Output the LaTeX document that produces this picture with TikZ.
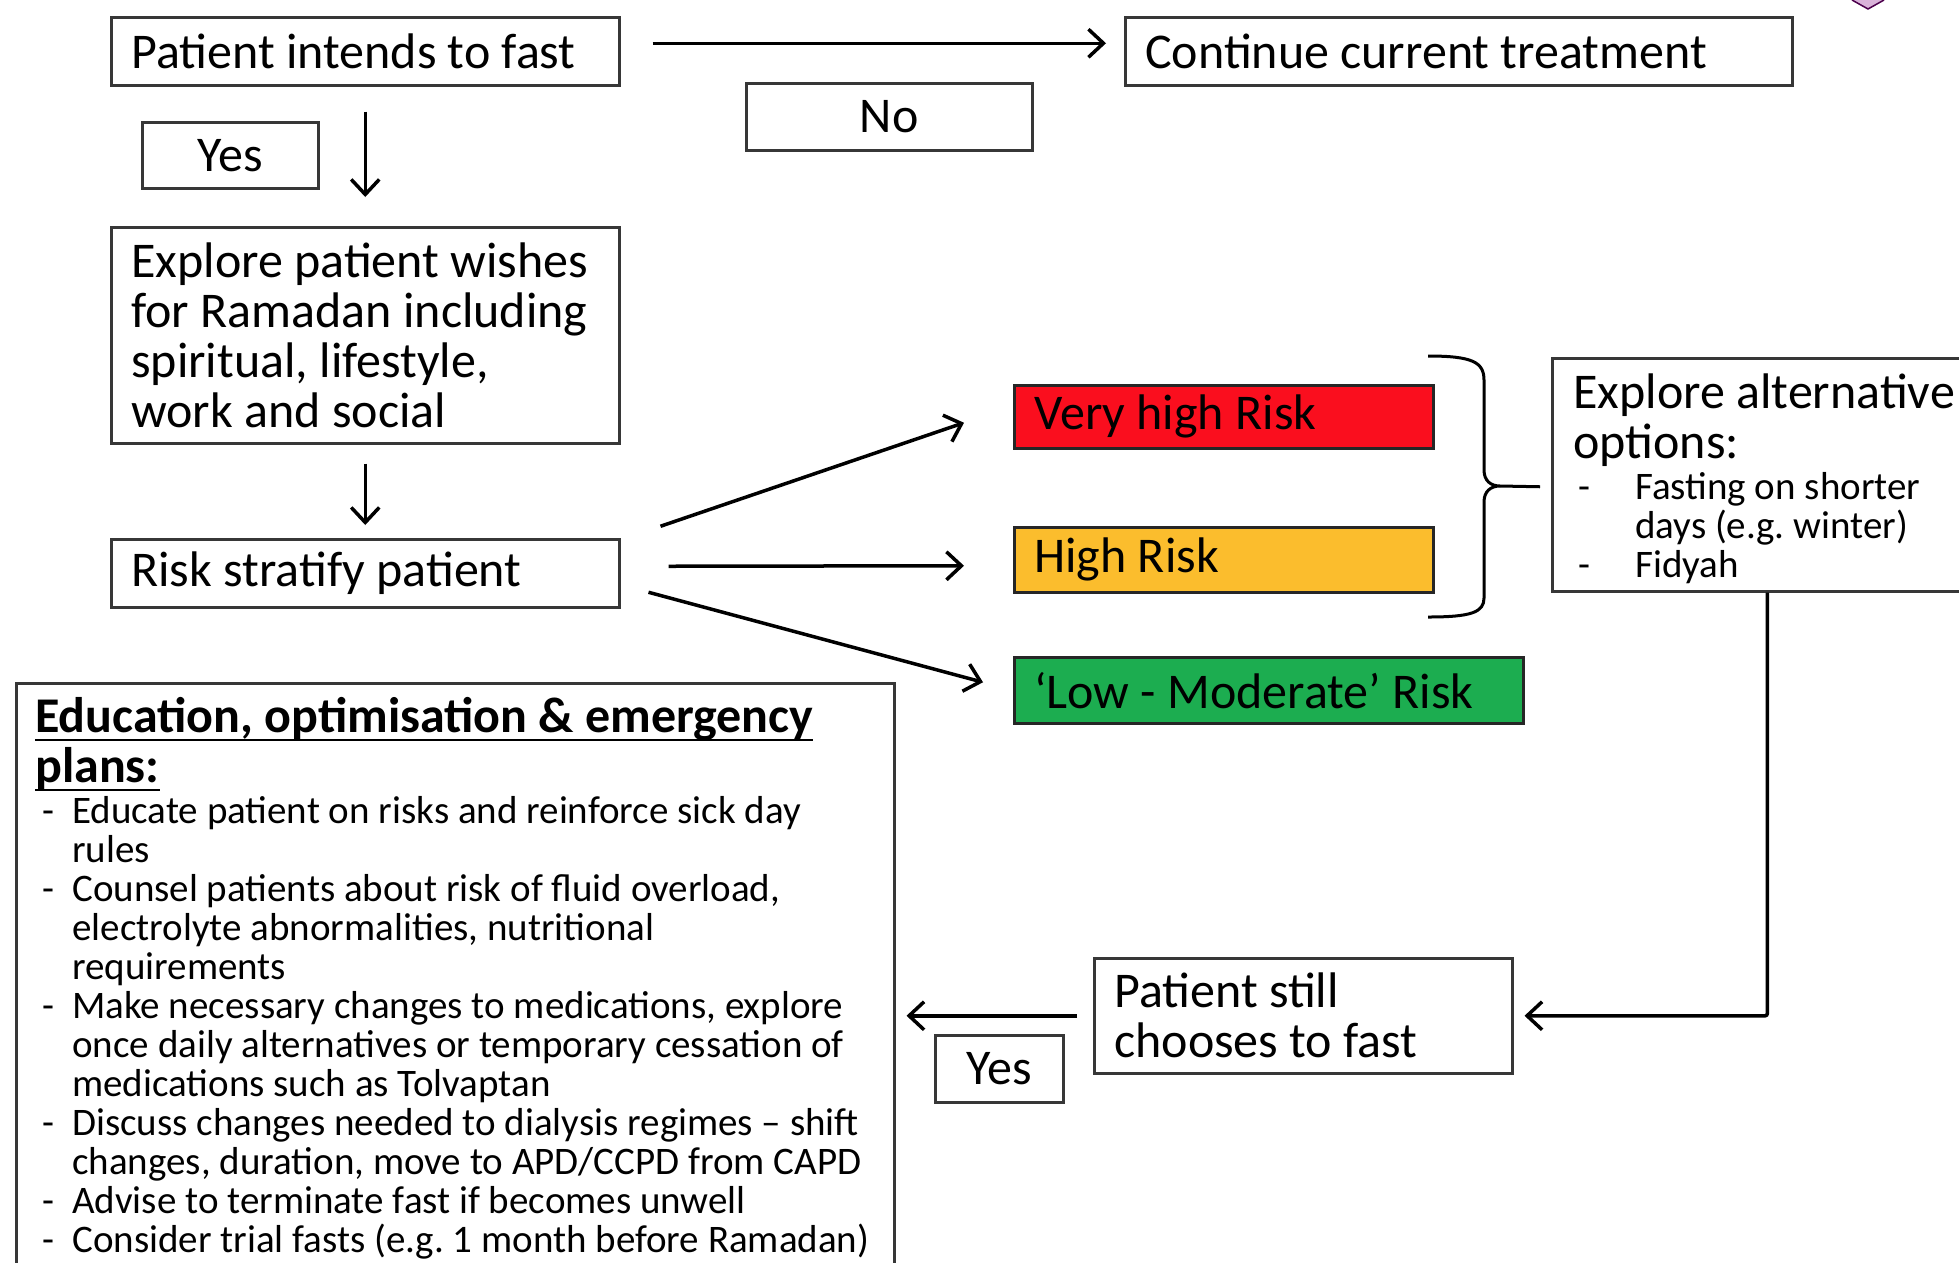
\documentclass[tikz,border=0pt]{standalone}
\usepackage{fontspec}
\setmainfont{Carlito}
\usetikzlibrary{arrows.meta,calc}
\definecolor{riskred}{RGB}{250,14,30}
\definecolor{riskamber}{RGB}{251,189,45}
\definecolor{riskgreen}{RGB}{28,173,80}
\definecolor{boxline}{RGB}{55,55,55}
\newcommand{\bigtxt}{\fontsize{50}{50}\selectfont}
\newcommand{\smalltxt}{\fontsize{39}{39}\selectfont}
\newcommand{\dashline}[3]{\par\noindent\hangindent=#1\hangafter=1\makebox[#1][l]{\hspace{#2}-}#3}
\newcommand{\undl}[1]{\leavevmode\setbox0\hbox{#1}\rlap{\rule[-9pt]{\wd0}{2.8pt}}\box0}
\frenchspacing
\tikzset{
  box/.style={draw=boxline, line width=2.5pt, anchor=north west, inner xsep=20pt, inner ysep=0pt, font=\bigtxt, align=flush left},
  riskbox/.style={box, draw=black!85, fill=#1, minimum width=0pt},
  arr/.style={-{Straight Barb[length=15pt,width=28pt]}, line width=3.5pt}
}

\begin{document}
\begin{tikzpicture}[x=1pt,y=-1pt]

    \useasboundingbox (0,0) rectangle (1959,1262);
    \fill[white] (0,0) rectangle (1959,1262);
    \clip (0,0) rectangle (1959,1262);

    \node[box, text width=468, minimum height=68] (intend) at (110,16) {Patient intends to fast};
    \node[box, text width=627, minimum height=68] (cont) at (1124,16) {Continue current treatment};
    \node[box, minimum width=286, minimum height=67, align=center] (no) at (745,82) {No};
    \node[box, minimum width=176, minimum height=66, align=center] (yesA) at (141,121) {Yes};
    \node[box, text width=468, minimum height=216] (wishes) at (110,226)
        {Explore patient wishes\\for Ramadan including\\spiritual, lifestyle,\\work and social};
    \node[box, text width=468, minimum height=68] (strat) at (110,538) {Risk stratify patient};

    \node[riskbox=riskred, text width=379, minimum height=63] (vhigh) at (1013,384) {Very high Risk};
    \node[riskbox=riskamber, text width=379, minimum height=65] (high) at (1013,526) {High Risk};
    \node[riskbox=riskgreen, text width=469, minimum height=66] (low) at (1013,656) {‘Low - Moderate’ Risk};

    \node[box, inner xsep=21pt, text width=398, minimum height=233] (alt) at (1551,357)
        {\parbox{398pt}{\raggedright\vspace*{8pt}{\bigtxt Explore alternative\newline options:\par}\vspace{1.5pt}\smalltxt
        \dashline{62pt}{5pt}{Fasting on shorter\newline days (e.g. winter)}
        \dashline{62pt}{5pt}{Fidyah}}};

    \node[box, text width=378, minimum height=115] (still) at (1093,957) {Patient still\\chooses to fast};
    \node[box, minimum width=128, minimum height=67, align=center] (yesB) at (934,1034) {Yes};

    \node[box, inner xsep=19pt, inner ysep=14pt] (edu) at (15,682)
        {\parbox[t][610pt][t]{840pt}{\raggedright
        {\fontsize{50}{50}\selectfont\bfseries\undl{Education, optimisation \& emergency}\newline\undl{plans:}\par}
        \vspace{2pt}\smalltxt
        \dashline{37pt}{7pt}{Educate patient on risks and reinforce sick day\newline rules}
        \dashline{37pt}{7pt}{Counsel patients about risk of fluid overload,\newline electrolyte abnormalities, nutritional\newline requirements}
        \dashline{37pt}{7pt}{Make necessary changes to medications, explore\newline once daily alternatives or temporary cessation of\newline medications such as Tolvaptan}
        \dashline{37pt}{7pt}{Discuss changes needed to dialysis regimes – shift\newline changes, duration, move to APD/CCPD from CAPD}
        \dashline{37pt}{7pt}{Advise to terminate fast if becomes unwell}
        \dashline{37pt}{7pt}{Consider trial fasts (e.g. 1 month before Ramadan)}\par}};

    \draw[arr] ($(intend.east)+(32,-8)$) -- ($(cont.west)+(-18,-8)$);
    \draw[arr] ($(intend.south)+(0,25)$) -- ($(wishes.north)+(0,-29)$);
    \draw[arr] ($(wishes.south)+(0,19)$) -- ($(strat.north)+(0,-13)$);

    \draw[arr] ($(strat.east)+(40,-47)$) -- ($(vhigh.west)+(-49,6)$);
    \draw[arr] ($(strat.east)+(48,-7)$) -- ($(high.west)+(-49,6)$);
    \draw[arr] ($(strat.east)+(28,19)$) -- ($(low.west)+(-30,-8)$);

    \draw[line width=3pt] (1428,356) .. controls (1472,356) and (1484,362) .. (1484,380)
        -- (1484,470) .. controls (1484,481) and (1491,486) .. (1500,486) coordinate (tip)
        .. controls (1491,486) and (1484,491) .. (1484,502)
        -- (1484,598) .. controls (1484,612) and (1472,617) .. (1428,617);
    \draw[line width=3pt] (tip) -- ($(alt.west)+(-11,12)$);

    \draw[arr, rounded corners=2pt] ($(alt.south)+(-5,0)$) |- ($(still.east)+(11,0)$);
    \draw[arr] ($(still.west)+(-16,0)$) -- ($(still.west -| edu.east)+(11,0)$);

    \filldraw[fill=violet!30, draw=violet!60!black, line width=1.5pt] (1852,0) -- (1868,9) -- (1884,0);

\end{tikzpicture}
\end{document}
